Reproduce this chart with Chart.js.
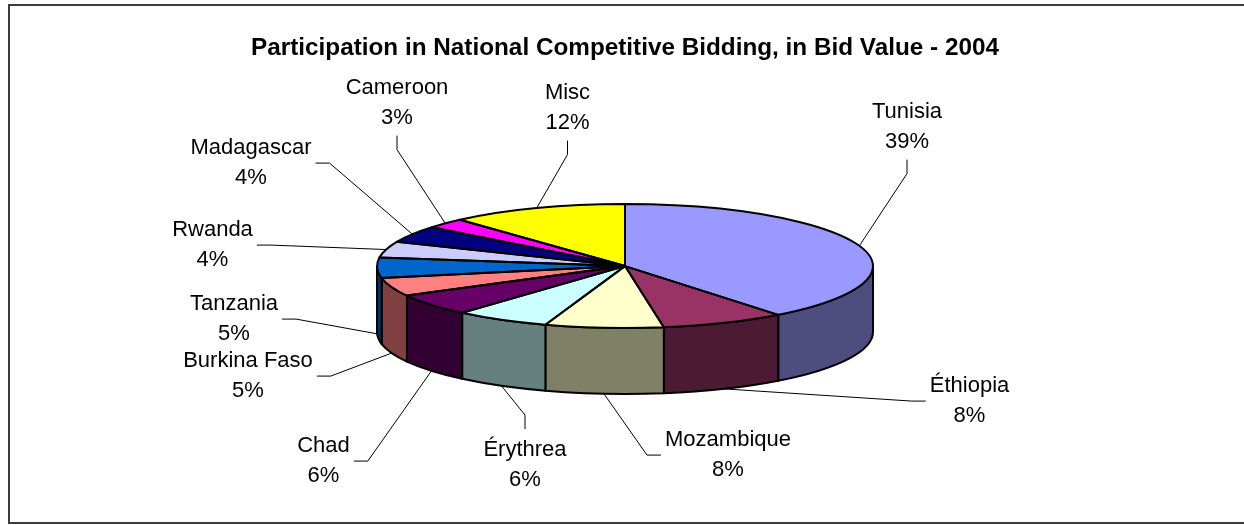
<!DOCTYPE html>
<html>
<head>
<meta charset="utf-8">
<script src="https://cdn.jsdelivr.net/npm/chart.js@4.4.1/dist/chart.umd.min.js"></script>
<style>
  html, body { margin: 0; padding: 0; background: #ffffff; }
  canvas { display: block; }
</style>
</head>
<body>
<canvas id="chart" width="1244" height="525"></canvas>
<script>
// ---- data ----
const categories = ['Tunisia', 'Éthiopia', 'Mozambique', 'Érythrea', 'Chad', 'Burkina Faso', 'Tanzania', 'Rwanda', 'Madagascar', 'Cameroon', 'Misc'];
const shares = [39.4, 8.1, 7.7, 6.2, 5.7, 4.8, 5.3, 4.2, 4.4, 2.6, 11.6];
const sliceColors = ['#9999FF', '#993366', '#FFFFCC', '#CCFFFF', '#660066', '#FF8080', '#0066CC', '#CCCCFF', '#000080', '#FF00FF', '#FFFF00'];
const chartTitle = 'Participation in National Competitive Bidding, in Bid Value - 2004';

// ---- layout / style (not data) ----
const PIE = { rx: 248, ry: 62, depth: 66 };
const LABEL_FONT = 22;
const LINE_GAP = 29.5;
// label position (centre x, first baseline) relative to the pie centre
const labelOffsets = [[282, -148], [344.5, 126], [103, 180], [-100, 190], [-301.5, 186], [-377, 101], [-391, 44], [-412.5, -30], [-374, -112], [-228, -172], [-57.5, -167]];

Chart.defaults.font.family = '"Liberation Sans", Arial, sans-serif';
Chart.defaults.color = '#000';

function shade(hex, f) {
  const n = parseInt(hex.slice(1), 16);
  const r = Math.round(((n >> 16) & 255) * f);
  const g = Math.round(((n >> 8) & 255) * f);
  const b = Math.round((n & 255) * f);
  return 'rgb(' + r + ',' + g + ',' + b + ')';
}

function squash(ctx, cy, k) {
  ctx.translate(0, cy);
  ctx.scale(1, k);
  ctx.translate(0, -cy);
}

const pie3d = {
  id: 'pie3d',
  beforeDraw(chart) {
    const ctx = chart.ctx;
    ctx.save();
    ctx.fillStyle = '#fff';
    ctx.fillRect(0, 0, chart.width, chart.height);
    ctx.strokeStyle = '#3c3c3c';
    ctx.lineWidth = 2;
    ctx.strokeRect(9, 5, chart.width + 10, chart.height - 7);
    ctx.restore();
  },
  beforeDatasetsDraw(chart) {
    const ctx = chart.ctx;
    const meta = chart.getDatasetMeta(0);
    const k = PIE.ry / PIE.rx;
    ctx.save();
    ctx.lineJoin = 'round';
    meta.data.forEach((arc, i) => {
      const p = arc.getProps(['x', 'y', 'startAngle', 'endAngle', 'outerRadius'], true);
      const a = Math.max(p.startAngle, 0);
      const b = Math.min(p.endAngle, Math.PI);
      if (b <= a) return;
      const rx = p.outerRadius, ry = p.outerRadius * k;
      ctx.beginPath();
      ctx.ellipse(p.x, p.y, rx, ry, 0, a, b, false);
      ctx.ellipse(p.x, p.y + PIE.depth, rx, ry, 0, b, a, true);
      ctx.closePath();
      ctx.fillStyle = shade(sliceColors[i], 0.5);
      ctx.fill();
      ctx.lineWidth = 2;
      ctx.strokeStyle = '#000';
      ctx.stroke();
    });
    ctx.restore();
    const cy = meta.data[0].y;
    ctx.save();
    squash(ctx, cy, k);
  },
  afterDatasetsDraw(chart) {
    const ctx = chart.ctx;
    ctx.restore();
    const meta = chart.getDatasetMeta(0);
    const k = PIE.ry / PIE.rx;
    const data = chart.data.datasets[0].data;
    const total = data.reduce((s, v) => s + v, 0);
    // outlines of the top face
    ctx.save();
    ctx.lineJoin = 'round';
    meta.data.forEach((arc) => {
      const p = arc.getProps(['x', 'y', 'startAngle', 'endAngle', 'outerRadius'], true);
      ctx.save();
      squash(ctx, p.y, k);
      ctx.beginPath();
      ctx.moveTo(p.x, p.y);
      ctx.arc(p.x, p.y, p.outerRadius, p.startAngle, p.endAngle);
      ctx.closePath();
      ctx.restore();
      ctx.lineWidth = 2;
      ctx.strokeStyle = '#000';
      ctx.stroke();
    });
    ctx.restore();

    // labels and leader lines
    ctx.save();
    ctx.font = LABEL_FONT + 'px "Liberation Sans", Arial, sans-serif';
    ctx.fillStyle = '#000';
    ctx.textAlign = 'center';
    ctx.textBaseline = 'alphabetic';
    meta.data.forEach((arc, i) => {
      const p = arc.getProps(['x', 'y', 'startAngle', 'endAngle', 'outerRadius'], true);
      const mid = (p.startAngle + p.endAngle) / 2;
      const s = Math.sin(mid);
      const ax = p.x + p.outerRadius * Math.cos(mid);
      const ay = p.y + p.outerRadius * k * s + (s > 0 ? PIE.depth : 0);
      const lx = p.x + labelOffsets[i][0];
      const b1 = p.y + labelOffsets[i][1];
      const b2 = b1 + LINE_GAP;
      const line1 = categories[i];
      const line2 = Math.round(data[i] / total * 100) + '%';
      ctx.fillText(line1, lx, b1);
      ctx.fillText(line2, lx, b2);
      const w = Math.max(ctx.measureText(line1).width, ctx.measureText(line2).width);
      const cyLabel = (b1 - 16 + b2 + 5) / 2;
      const dx = lx - ax, dy = cyLabel - ay;
      let ex, ey, bx, by;
      if (Math.abs(dx) > Math.abs(dy)) {
        ey = b1 + 9; by = ey;
        if (dx > 0) { ex = lx - w / 2 - 4; bx = ex - 14; }
        else { ex = lx + w / 2 + 4; bx = ex + 14; }
      } else {
        ex = lx; bx = lx;
        if (dy < 0) { ey = b2 + 12; by = ey + 14; }
        else { ey = b1 - 27; by = ey - 14; }
      }
      ctx.beginPath();
      ctx.moveTo(ax, ay);
      ctx.lineTo(bx, by);
      ctx.lineTo(ex, ey);
      ctx.lineWidth = 1;
      ctx.strokeStyle = '#000';
      ctx.stroke();
    });
    ctx.restore();
  }
};

new Chart(document.getElementById('chart'), {
  type: 'pie',
  data: {
    labels: categories,
    datasets: [{
      data: shares,
      backgroundColor: sliceColors,
      borderWidth: 0,
      clip: false
    }]
  },
  options: {
    responsive: false,
    animation: false,
    devicePixelRatio: 1,
    radius: PIE.rx,
    layout: { padding: { left: 6, right: 0, top: 34, bottom: 56 } },
    plugins: {
      legend: { display: false },
      tooltip: { enabled: false },
      title: {
        display: true,
        text: chartTitle,
        color: '#000',
        font: { size: 24.3, weight: 'bold', family: '"Liberation Sans", Arial, sans-serif' },
        padding: { top: 0, bottom: 0 }
      }
    }
  },
  plugins: [pie3d]
});
</script>
</body>
</html>
